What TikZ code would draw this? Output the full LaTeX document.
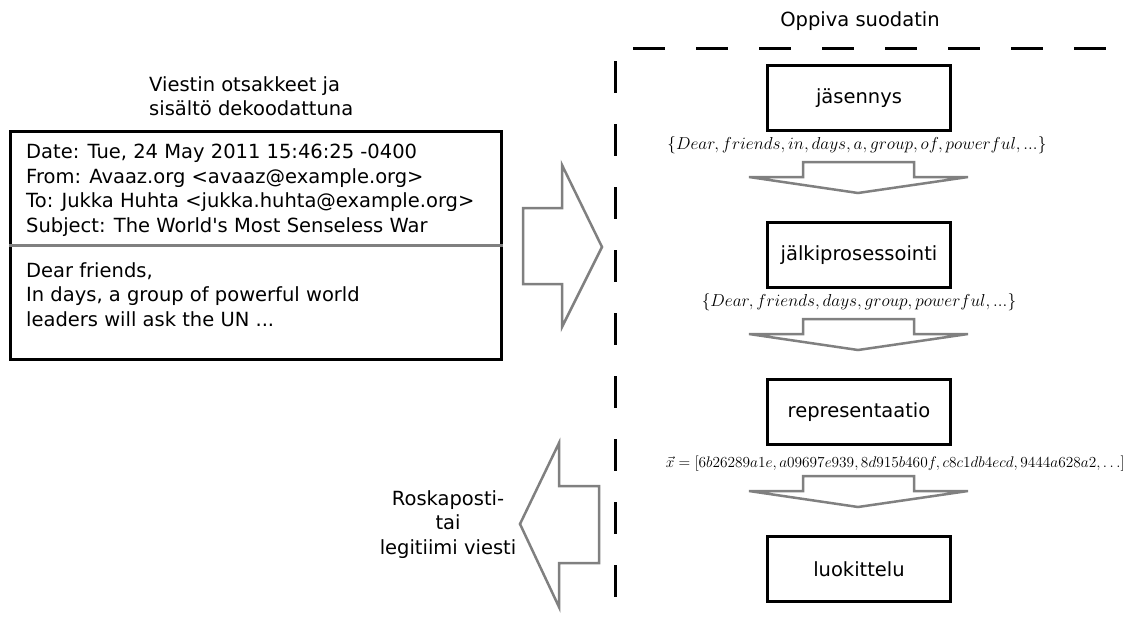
\documentclass[tikz,border=0pt]{standalone}
\usepackage{graphicx}
\usepackage{fontspec}
\setmainfont{DejaVu Sans}
\definecolor{arrowgray}{HTML}{808080}
\tikzset{
  txt/.style={font=\fontsize{19.5}{24.5}\selectfont, inner sep=0pt},
  stagebox/.style={draw, line width=3pt, minimum width=183pt, minimum height=65pt, font=\fontsize{19.5}{24.5}\selectfont, inner sep=0pt},
  mathlbl/.style={inner sep=0pt, font=\fontsize{18.5}{21}\selectfont},
  blockarrow/.style={draw=arrowgray, line width=2.5pt, line join=miter},
  framedash/.style={line width=3pt, dash pattern=on 32pt off 31pt}
}
\newcommand\flowarrow[1]{%
  \draw[blockarrow] (803,#1) -- (914,#1) -- (914,#1+15) -- (968,#1+15) -- (858,#1+31) -- (749,#1+15) -- (803,#1+15) -- cycle;}
\begin{document}
\begin{tikzpicture}[x=1pt,y=-1pt]
\useasboundingbox (0,0) rectangle (1131,621);
% left title (anchor base = last line)
\node[txt, anchor=base west, align=left] (title) at (149,115.5) {Viestin otsakkeet ja\\sisältö dekoodattuna};
% email box
\node[draw, line width=3pt, minimum width=491pt, minimum height=228pt, inner sep=0pt] (mail) at (256,245.5) {};
\draw[draw=arrowgray, line width=3pt] (mail.west |- 0,245) -- (mail.east |- 0,245);
\node[txt, anchor=base west, align=left] (hdr) at (26,232) {Date: Tue, 24 May 2011 15:46:25 -0400\\From: Avaaz.org <avaaz@example.org>\\To: Jukka Huhta <jukka.huhta@example.org>\\Subject: The World\textquotesingle s Most Senseless War};
\node[txt, anchor=base west, align=left] (body) at (26,326) {Dear friends,\\In days, a group of powerful world\\leaders will ask the UN ...};
% big right arrow
\draw[blockarrow] (523,208) -- (562,208) -- (562,165) -- (602,247) -- (562,327) -- (562,284) -- (523,284) -- cycle;
% big left arrow
\draw[blockarrow] (599,486) -- (559,486) -- (559,443) -- (520,524) -- (559,607) -- (559,563) -- (599,563) -- cycle;
\node[txt, anchor=base, align=center] (result) at (448,554) {Roskaposti-\\tai\\legitiimi viesti};
% filter frame
\node[txt, anchor=base] (filter) at (860,26) {Oppiva suodatin};
\coordinate (ftl) at (633,48);
\coordinate (ftr) at (1108,48);
\coordinate (fvt) at (615,61);
\coordinate (fvb) at (615,597);
\draw[framedash] (ftl) -- (ftr);
\draw[framedash] (fvt) -- (fvb);
% stages
\node[stagebox] (s1) at (859,98) {jäsennys};
\node[stagebox] (s2) at (859,255) {jälkiprosessointi};
\node[stagebox] (s3) at (859,412) {representaatio};
\node[stagebox] (s4) at (859,569) {luokittelu};
\node[mathlbl, anchor=base] (l1) at (857,149) {$\{Dear, friends, in, days, a, group, of, powerful, ...\}$};
\node[mathlbl, anchor=base] (l2) at (859,306) {$\{Dear, friends, days, group, powerful, ...\}$};
\node[mathlbl, anchor=base east, font=\fontsize{15.5}{18}\selectfont] (l3) at (1125,467) {\resizebox{459pt}{!}{$\vec{x}=[6b26289a1e, a09697e939, 8d915b460f, c8c1db4ecd, 9444a628a2, \ldots]$}};
\flowarrow{162}
\flowarrow{319}
\flowarrow{476}
\end{tikzpicture}
\end{document}
